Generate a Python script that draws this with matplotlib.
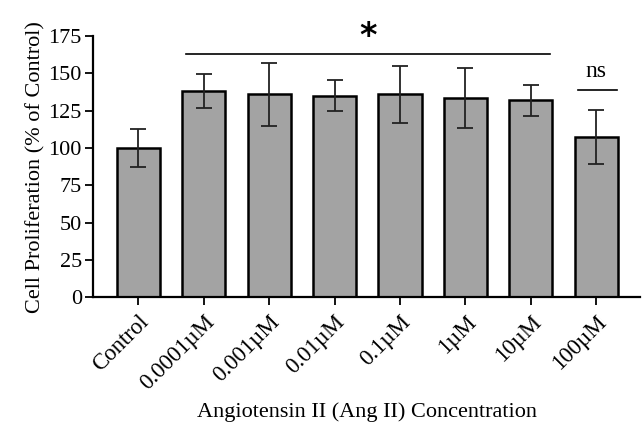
import numpy as np
import matplotlib
matplotlib.use("Agg")
import matplotlib.pyplot as plt

# data
groups = ["Control", "0.0001µM", "0.001µM", "0.01µM", "0.1µM", "1µM", "10µM", "100µM"]
means = [100, 138, 136, 135, 136, 133.5, 132, 107.5]
errors = [12.5, 11.5, 21, 10.5, 19, 20, 10.5, 18]
y_ticks = [0, 25, 50, 75, 100, 125, 150, 175]

plt.rcParams['font.family'] = ['Liberation Serif', 'DejaVu Serif']

fig = plt.figure(figsize=(6.42, 4.3), dpi=100)
ax = fig.add_axes([0.145, 0.309, 0.852, 0.607])

x = np.arange(len(groups))
ax.bar(x, means, width=0.66, color="#a3a3a3", edgecolor="black", linewidth=1.8, zorder=2)
ax.errorbar(x, means, yerr=errors, fmt="none", ecolor="#222222", elinewidth=1.3,
            capsize=6, capthick=1.3, zorder=3)

ax.set_xlim(-0.69, 7.67)
ax.set_ylim(0, 175)
ax.set_yticks(y_ticks)
ax.set_xticks(x)
ax.set_xticklabels(groups, rotation=45, ha="right", rotation_mode="anchor", fontsize=16.5)
ax.tick_params(axis="y", labelsize=16, width=1.3, length=6, pad=2)
ax.tick_params(axis="x", width=1.3, length=6, pad=4)

for s in ["top", "right"]:
    ax.spines[s].set_visible(False)
for s in ["left", "bottom"]:
    ax.spines[s].set_linewidth(1.6)

ax.set_ylabel("Cell Proliferation (% of Control)", fontsize=16, labelpad=2)
ax.set_xlabel("Angiotensin II (Ang II) Concentration", fontsize=16, labelpad=6)

# significance marks
ax.plot([0.73, 6.29], [163, 163], color="black", linewidth=1.2, clip_on=False)
ax.text(3.52, 175, "*", ha="center", va="center", fontsize=24, fontweight="bold",
        family="DejaVu Sans", clip_on=False)
ax.plot([6.72, 7.32], [139, 139], color="black", linewidth=1.2, clip_on=False)
ax.text(7.0, 144, "ns", ha="center", va="bottom", fontsize=17)

fig.savefig("out.png", dpi=100)
